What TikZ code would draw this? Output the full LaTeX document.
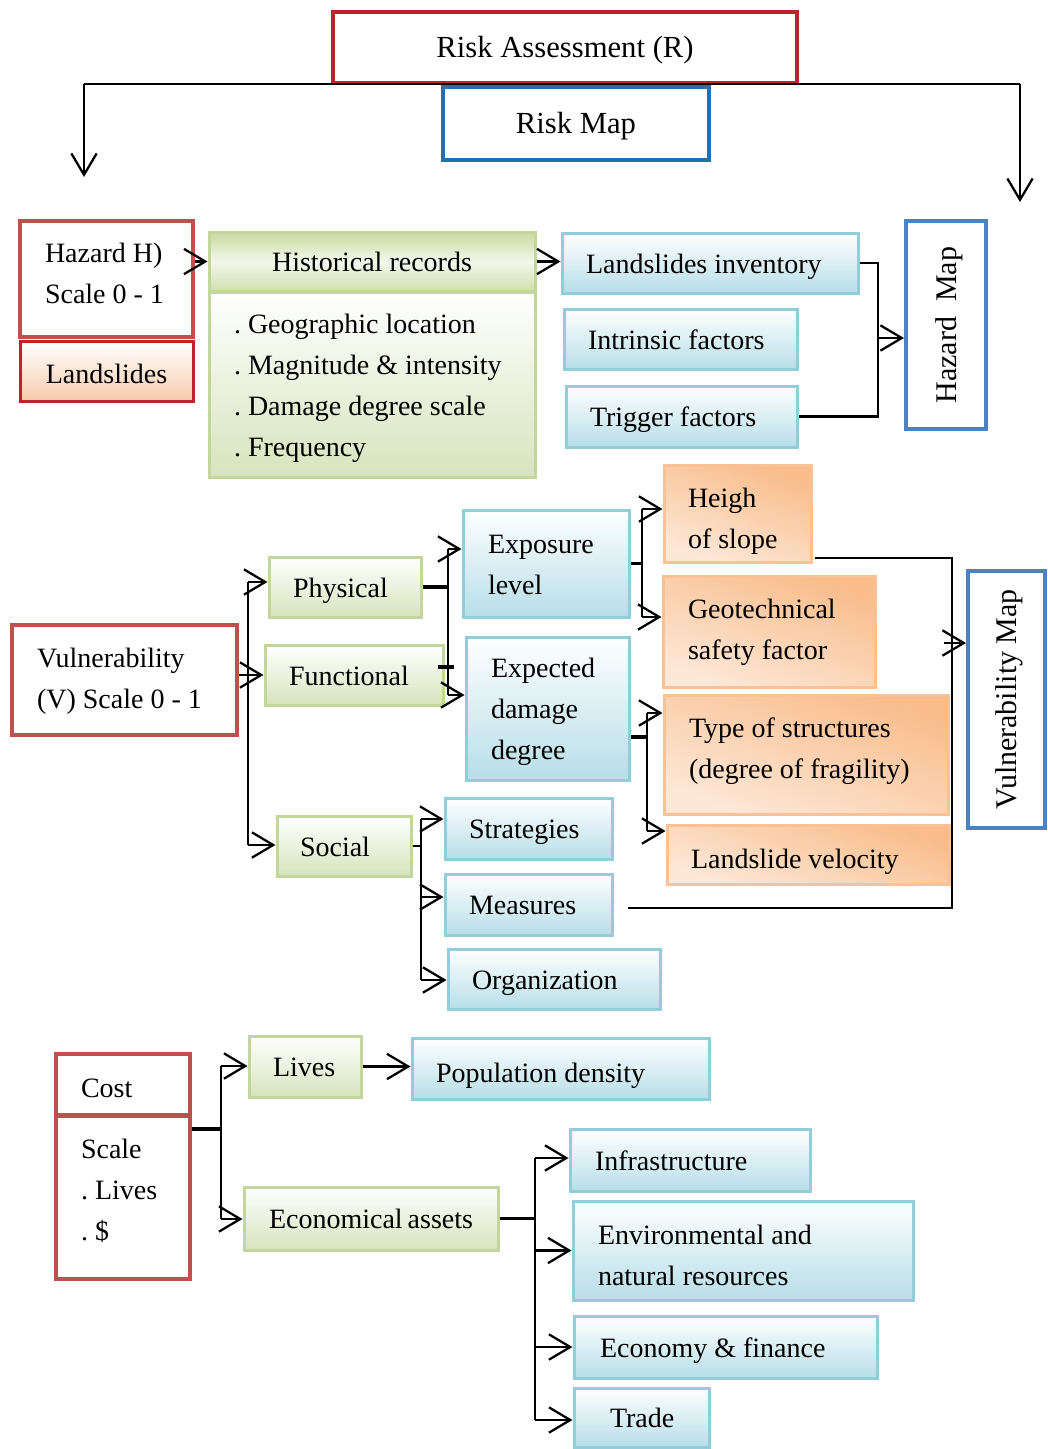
\documentclass[tikz,border=0pt]{standalone}
\usepackage{fontspec}
\setmainfont{Liberation Serif}
\usetikzlibrary{arrows.meta,calc}
\definecolor{raRed}{RGB}{193,33,45}
\definecolor{rmBlue}{RGB}{31,112,182}
\definecolor{accRed}{RGB}{192,80,77}
\definecolor{mapBlue}{RGB}{79,129,189}
\definecolor{greenB}{RGB}{195,214,155}
\definecolor{greenF}{RGB}{215,228,189}
\definecolor{greenH}{RGB}{200,218,160}
\definecolor{blueB}{RGB}{146,205,220}
\definecolor{blueF}{RGB}{183,222,232}
\definecolor{orangeB}{RGB}{249,194,150}
\definecolor{orangeF}{RGB}{249,188,138}
\definecolor{orangeL}{RGB}{253,232,216}
\definecolor{landF}{RGB}{248,203,173}
\tikzset{
  sz/.style 2 args={minimum width=#1*0.75pt,minimum height=#2*0.75pt},
  tw/.code 2 args={\pgfmathsetmacro\twv{(#1-2*#2)*0.75}%
    \edef\tmptw{\noexpand\tikzset{inner xsep=#2*0.75pt,text width=\twv pt,align=flush left}}\tmptw},
  hd/.style 2 args={text height=#1pt,text depth=#2pt},
  rbox/.style={draw=accRed,line width=3pt,fill=white},
  mbox/.style={draw=mapBlue,line width=3pt,fill=white,font=\fontsize{22.5}{27}\selectfont},
  gbox/.style={draw=greenB,line width=2.25pt,top color=white,bottom color=greenF},
  bbox/.style={draw=blueB,line width=2.25pt,top color=white,bottom color=blueF},
  obox/.style={draw=orangeB,line width=2.25pt,top color=orangeF,bottom color=orangeL,shading angle=-20},
  conn/.style={draw=black,line width=1.7pt},
  thk/.style={draw=black,line width=2.3pt},
  arr/.style={conn,-{Straight Barb[length=16pt,width=19pt]}},
}
\begin{document}
\begin{tikzpicture}[x=0.75pt,y=-0.75pt,
  every node/.style={font=\fontsize{21}{30.75}\selectfont,inner ysep=0pt,text height=20pt,text depth=4.5pt}]
\useasboundingbox (0,0) rectangle (1047,1449);

% top
\node[draw=raRed,line width=3pt,fill=white,sz={464}{71},font=\fontsize{23}{28}\selectfont] (ra) at (565,47.5) {Risk Assessment (R)};
\node[draw=rmBlue,line width=3pt,fill=white,sz={266}{73},font=\fontsize{23}{28}\selectfont] (rm) at (576,123.5) {Risk Map};
\coordinate (cL) at (84,84); \coordinate (cR) at (1020,84);
\coordinate (tL) at (84,177); \coordinate (tR) at (1020,202);
\draw[conn] (cL) -- (cR);
\draw[arr] (cL) -- (tL);
\draw[arr] (cR) -- (tR);

% hazard
\node[rbox,sz={173}{116},tw={173}{25},hd={20}{44.25}] (haz) at (106.5,279) {Hazard~H)\\Scale~0~-~1};
\node[draw=raRed,line width=2.25pt,top color=white,bottom color=landF,sz={173}{60},hd={23}{4.5}] (lands) at (106.5,371) {Landslides};
\node[draw=greenB,line width=2.25pt,top color=greenH,bottom color=greenH!85!white,middle color=white!70!greenF,sz={326}{59}] (hist) at (372,261.5) {Historical records};
\node[gbox,sz={326}{185},tw={326}{25},hd={20}{96.75}] (histb) at (372,384.5) {.~Geographic~location\\.~Magnitude~\&~intensity\\.~Damage~degree~scale\\.~Frequency};
\node[bbox,sz={296}{60},tw={296}{24}] (inv) at (710,263) {Landslides~inventory};
\node[bbox,sz={233}{60},tw={233}{24}] (intr) at (680.5,339) {Intrinsic~factors};
\node[bbox,sz={231}{61},tw={231}{24}] (trig) at (681.5,416.5) {Trigger~factors};
\node[mbox,rotate=90,sz={208}{80}] (hmap) at (946,325) {Hazard\ \ Map};

\draw[arr] (haz.east |- hist.west) -- (hist.west);
\draw[arr] (hist.east) -- (hist.east -| inv.west);
\coordinate (jH) at (878,338);
\draw[conn] (inv.east) -| (jH);
\draw[conn] (trig.east) -| (jH);
\draw[arr] (jH) -- (jH -| hmap.north);

% vulnerability
\node[rbox,sz={225}{110},tw={225}{25},hd={20}{39}] (vul) at (124.5,680) {Vulnerability\\(V)~Scale~0~-~1};
\node[gbox,sz={152}{60},tw={152}{24}] (phys) at (345,587) {Physical};
\node[gbox,sz={178}{60},tw={178}{24}] (func) at (354,675) {Functional};
\node[gbox,sz={134}{60},tw={134}{23}] (soc) at (344,846) {Social};
\node[bbox,sz={166}{107},tw={166}{25},hd={20}{35.25}] (expo) at (546,563.5) {Exposure\\level};
\node[bbox,sz={163}{143},tw={163}{25},hd={20}{66}] (expd) at (547.5,708.5) {Expected\\damage\\degree};
\node[obox,sz={147}{97},tw={147}{24},hd={26.75}{35.25}] (heigh) at (737.5,513.5) {Heigh\\of~slope};
\node[obox,sz={212}{111},tw={212}{25},hd={20}{39}] (geo) at (769,631.5) {Geotechnical\\safety~factor};
\node[obox,sz={284}{119},tw={284}{25},hd={20}{45}] (type) at (806,754.5) {Type~of~structures\\(degree~of~fragility)};
\node[obox,sz={282}{59},tw={282}{24},hd={25.25}{4.5}] (vel) at (808,854.5) {Landslide~velocity};
\node[mbox,rotate=90,sz={257}{77}] (vmap) at (1006.5,699.5) {Vulnerability Map};
\node[bbox,sz={167}{61},tw={167}{24}] (strat) at (528.5,828.5) {Strategies};
\node[bbox,sz={167}{61},tw={167}{24}] (meas) at (528.5,904.5) {Measures};
\node[bbox,sz={212}{60},tw={212}{24}] (org) at (554,979) {Organization};

\coordinate (vA) at (248,582); \coordinate (vB) at (248,845);
\draw[conn] (vA) -- (vB);
\draw[arr] (vA) -- (vA -| phys.west);
\draw[arr] (vul.east |- func.west) -- (func.west);
\draw[arr] (vB) -- (vB -| soc.west);

\coordinate (pA) at (448,549); \coordinate (pB) at (448,695);
\draw[conn] (pA) -- (pB);
\draw[thk] (phys.east) -- (phys.east -| pA);
\draw[arr] (pA) -- (pA -| expo.west);
\draw[arr] (pB) -- (pB -| expd.west);
\coordinate (fS) at (438,667); \coordinate (fE) at (454,667);
\draw[thk] (fS) -- (fE);

\coordinate (eA) at (642,509); \coordinate (eB) at (642,617);
\draw[conn] (eA) -- (eB);
\draw[conn] (expo.east) -- (expo.east -| eA);
\draw[arr] (eA) -- (eA -| heigh.west);
\draw[arr] (eB) -- (eB -| geo.west);

\coordinate (dA) at (647,713); \coordinate (dB) at (647,831); \coordinate (dS) at (647,737);
\draw[conn] (dA) -- (dB);
\draw[thk] (dS -| expd.east) -- (dS);
\draw[arr] (dA) -- (dA -| type.west);
\draw[arr] (dB) -- (dB -| vel.west);

\coordinate (sA) at (421,819); \coordinate (sB) at (421,980); \coordinate (sM) at (421,897);
\draw[conn] (sA) -- (sB);
\draw[conn] (soc.east) -- (soc.east -| sA);
\draw[arr] (sA) -- (sA -| strat.west);
\draw[arr] (sM) -- (sM -| meas.west);
\draw[arr] (sB) -- (sB -| org.west);

\coordinate (hR) at (815,558); \coordinate (vmT) at (952,558);
\coordinate (vmB) at (952,908); \coordinate (mR) at (628,908);
\draw[conn] (hR) -- (vmT) -- (vmB) -- (mR);
\coordinate (vmA) at (944,643);
\draw[arr] (vmA) -- (vmA -| vmap.north);

% cost
\node[rbox,sz={134}{61},tw={134}{25},hd={23.75}{4.5}] (cost) at (123,1084.5) {Cost};
\node[rbox,sz={134}{163},tw={134}{25},hd={20}{78.75}] (scale) at (123,1197.5) {Scale\\.~Lives\\.~\$};
\node[gbox,sz={112}{61},tw={112}{24}] (lives) at (305,1066.5) {Lives};
\node[bbox,sz={297}{61},tw={297}{24},hd={25.25}{4.5}] (pop) at (560.5,1068.5) {Population~density};
\node[gbox,sz={254}{63},tw={254}{25}] (econ) at (371,1218.5) {Economical~assets};
\node[bbox,sz={240}{62},tw={240}{25}] (infra) at (690,1160) {Infrastructure};
\node[bbox,sz={340}{99},tw={340}{25},hd={26}{35.25}] (env) at (743,1250.5) {Environmental~and\\natural~resources};
\node[bbox,sz={303}{62},tw={303}{26}] (ecof) at (725.5,1347) {Economy~\&~finance};
\node[bbox,sz={135}{59},tw={135}{36}] (trade) at (641.5,1417.5) {Trade};

\coordinate (kA) at (221,1066); \coordinate (kB) at (221,1219); \coordinate (kS) at (221,1129);
\draw[conn] (kA) -- (kB);
\draw[thk] (kS -| scale.east) -- (kS);
\draw[arr] (kA) -- (kA -| lives.west);
\draw[arr] (kB) -- (kB -| econ.west);
\draw[arr] (lives.east) -- (lives.east -| pop.west);

\coordinate (xA) at (535,1158); \coordinate (xB) at (535,1420);
\draw[conn] (xA) -- (xB);
\draw[thk] (econ.east) -- (econ.east -| xA);
\draw[arr] (xA) -- (xA -| infra.west);
\draw[arr] (env.west -| xA) -- (env.west);
\draw[arr] (ecof.west -| xA) -- (ecof.west);
\draw[arr] (xB) -- (xB -| trade.west);
\end{tikzpicture}
\end{document}
